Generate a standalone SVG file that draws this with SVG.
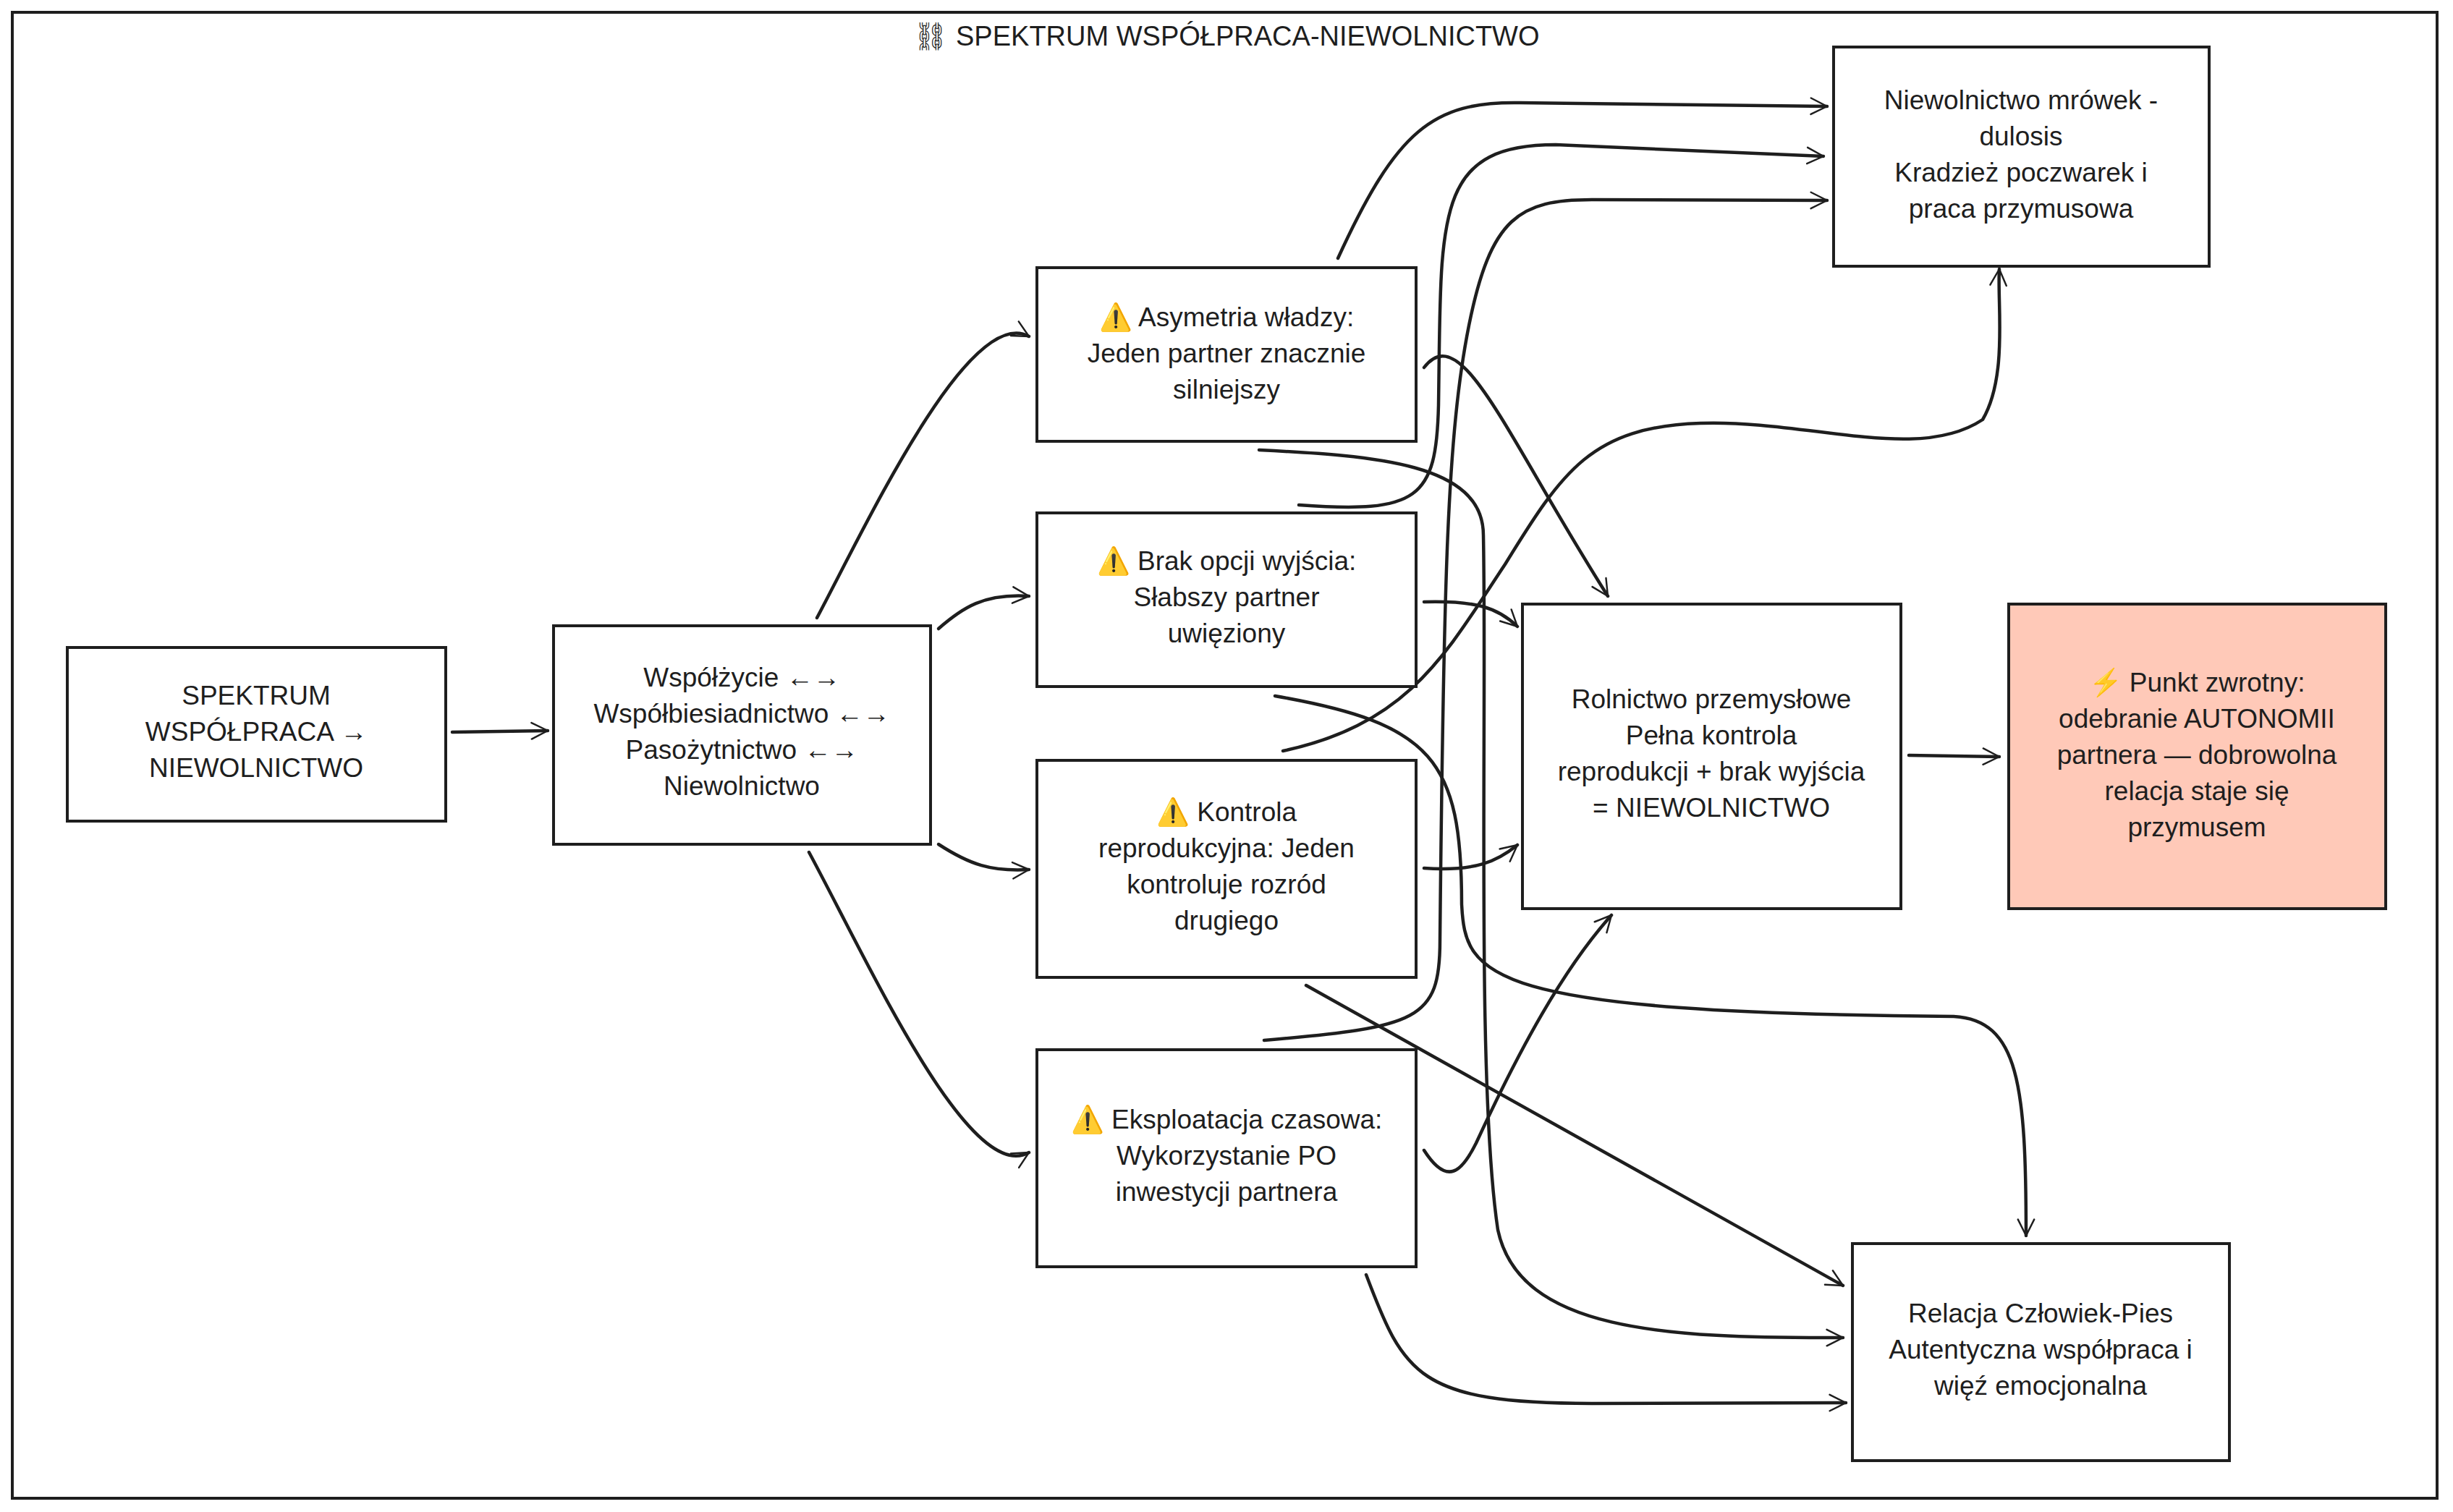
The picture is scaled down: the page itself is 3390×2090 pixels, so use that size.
<svg xmlns="http://www.w3.org/2000/svg" width="3390" height="2090" viewBox="0 0 3390 2090">
<style>
.n rect{fill:#fff;stroke:#1e1e1e;stroke-width:4}
text{font-family:"Liberation Sans","Noto Sans",sans-serif;font-size:37px;fill:#1e1e1e;text-anchor:middle}
.e path{fill:none;stroke:#1e1e1e;stroke-width:4.5;stroke-linecap:round}
</style>
<defs>
<marker id="a" viewBox="0 0 20 20" refX="18" refY="10" markerWidth="14" markerHeight="14" markerUnits="userSpaceOnUse" orient="auto" style="overflow:visible">
<path d="M-14,-6 L18,10 L-14,26" fill="none" stroke="#1e1e1e" stroke-width="3.5" stroke-linecap="round" stroke-linejoin="round"/>
</marker>
</defs>
<rect x="0" y="0" width="3390" height="2090" fill="#fff"/>
<rect x="17" y="17" width="3351" height="2054" fill="none" stroke="#1e1e1e" stroke-width="4"/>
<text x="1695" y="63" style="font-size:38px">⛓ SPEKTRUM WSPÓŁPRACA-NIEWOLNICTWO</text>
<g class="e" marker-end="url(#a)">
<path d="M625,1012 L757,1010"/>
<path d="M1129,854 C1200,720 1340,420 1422,465"/>
<path d="M1297,869 C1330,840 1360,820 1422,824"/>
<path d="M1297,1167 C1340,1195 1370,1205 1422,1202"/>
<path d="M1118,1178 C1200,1330 1340,1640 1422,1593"/>
<path d="M1849,357 C1930,180 1980,140 2100,142 C2300,144 2450,146 2525,147"/>
<path d="M1795,698 C1960,710 1985,690 1988,560 C1992,300 1980,200 2150,200 L2520,216"/>
<path d="M1747,1438 C1960,1420 1990,1410 1990,1300 C1995,800 2000,600 2030,450 C2060,300 2100,276 2200,276 L2525,277"/>
<path d="M1773,1038 C1950,1000 2000,900 2080,780 C2160,650 2200,590 2350,585 C2500,580 2650,640 2740,580 C2775,520 2760,420 2763,372"/>
<path d="M1968,508 C2020,440 2080,600 2222,824"/>
<path d="M1968,832 C2040,830 2070,840 2097,866"/>
<path d="M1968,1200 C2040,1205 2070,1190 2097,1168"/>
<path d="M1968,1590 C2000,1640 2020,1620 2040,1580 C2100,1450 2160,1340 2227,1265"/>
<path d="M2638,1044 L2763,1046"/>
<path d="M1740,622 C1900,630 2050,640 2050,740 C2055,1000 2040,1500 2070,1700 C2100,1840 2300,1850 2547,1849"/>
<path d="M1762,962 C1980,1000 2020,1050 2020,1250 C2025,1350 2050,1400 2700,1405 C2790,1410 2800,1500 2800,1708"/>
<path d="M1805,1362 L2547,1777"/>
<path d="M1888,1762 C1940,1900 1960,1940 2200,1940 L2551,1939"/>
</g>
<g id="n1" class="n"><rect x="93" y="895" width="523" height="240"/><text><tspan x="354" y="974">SPEKTRUM</tspan><tspan x="354" y="1024">WSPÓŁPRACA →</tspan><tspan x="354" y="1074">NIEWOLNICTWO</tspan></text></g>
<g id="n2" class="n"><rect x="765" y="865" width="521" height="302"/><text><tspan x="1025" y="949">Współżycie ←→</tspan><tspan x="1025" y="999">Współbiesiadnictwo ←→</tspan><tspan x="1025" y="1049">Pasożytnictwo ←→</tspan><tspan x="1025" y="1099">Niewolnictwo</tspan></text></g>
<g id="n3" class="n"><rect x="1433" y="370" width="524" height="240"/><text><tspan x="1695" y="451">⚠️ Asymetria władzy:</tspan><tspan x="1695" y="501">Jeden partner znacznie</tspan><tspan x="1695" y="551">silniejszy</tspan></text></g>
<g id="n4" class="n"><rect x="1433" y="709" width="524" height="240"/><text><tspan x="1695" y="788">⚠️ Brak opcji wyjścia:</tspan><tspan x="1695" y="838">Słabszy partner</tspan><tspan x="1695" y="888">uwięziony</tspan></text></g>
<g id="n5" class="n"><rect x="1433" y="1051" width="524" height="300"/><text><tspan x="1695" y="1135">⚠️ Kontrola</tspan><tspan x="1695" y="1185">reprodukcyjna: Jeden</tspan><tspan x="1695" y="1235">kontroluje rozród</tspan><tspan x="1695" y="1285">drugiego</tspan></text></g>
<g id="n6" class="n"><rect x="1433" y="1451" width="524" height="300"/><text><tspan x="1695" y="1560">⚠️ Eksploatacja czasowa:</tspan><tspan x="1695" y="1610">Wykorzystanie PO</tspan><tspan x="1695" y="1660">inwestycji partnera</tspan></text></g>
<g id="n7" class="n"><rect x="2534" y="65" width="519" height="303"/><text><tspan x="2793" y="151">Niewolnictwo mrówek -</tspan><tspan x="2793" y="201">dulosis</tspan><tspan x="2793" y="251">Kradzież poczwarek i</tspan><tspan x="2793" y="301">praca przymusowa</tspan></text></g>
<g id="n8" class="n"><rect x="2104" y="835" width="523" height="421"/><text><tspan x="2365" y="979">Rolnictwo przemysłowe</tspan><tspan x="2365" y="1029">Pełna kontrola</tspan><tspan x="2365" y="1079">reprodukcji + brak wyjścia</tspan><tspan x="2365" y="1129">= NIEWOLNICTWO</tspan></text></g>
<g id="n9" class="n"><rect x="2776" y="835" width="521" height="421" style="fill:#ffc9b8"/><text><tspan x="3036" y="956">⚡ Punkt zwrotny:</tspan><tspan x="3036" y="1006">odebranie AUTONOMII</tspan><tspan x="3036" y="1056">partnera — dobrowolna</tspan><tspan x="3036" y="1106">relacja staje się</tspan><tspan x="3036" y="1156">przymusem</tspan></text></g>
<g id="n10" class="n"><rect x="2560" y="1719" width="521" height="300"/><text><tspan x="2820" y="1828">Relacja Człowiek-Pies</tspan><tspan x="2820" y="1878">Autentyczna współpraca i</tspan><tspan x="2820" y="1928">więź emocjonalna</tspan></text></g>
</svg>
